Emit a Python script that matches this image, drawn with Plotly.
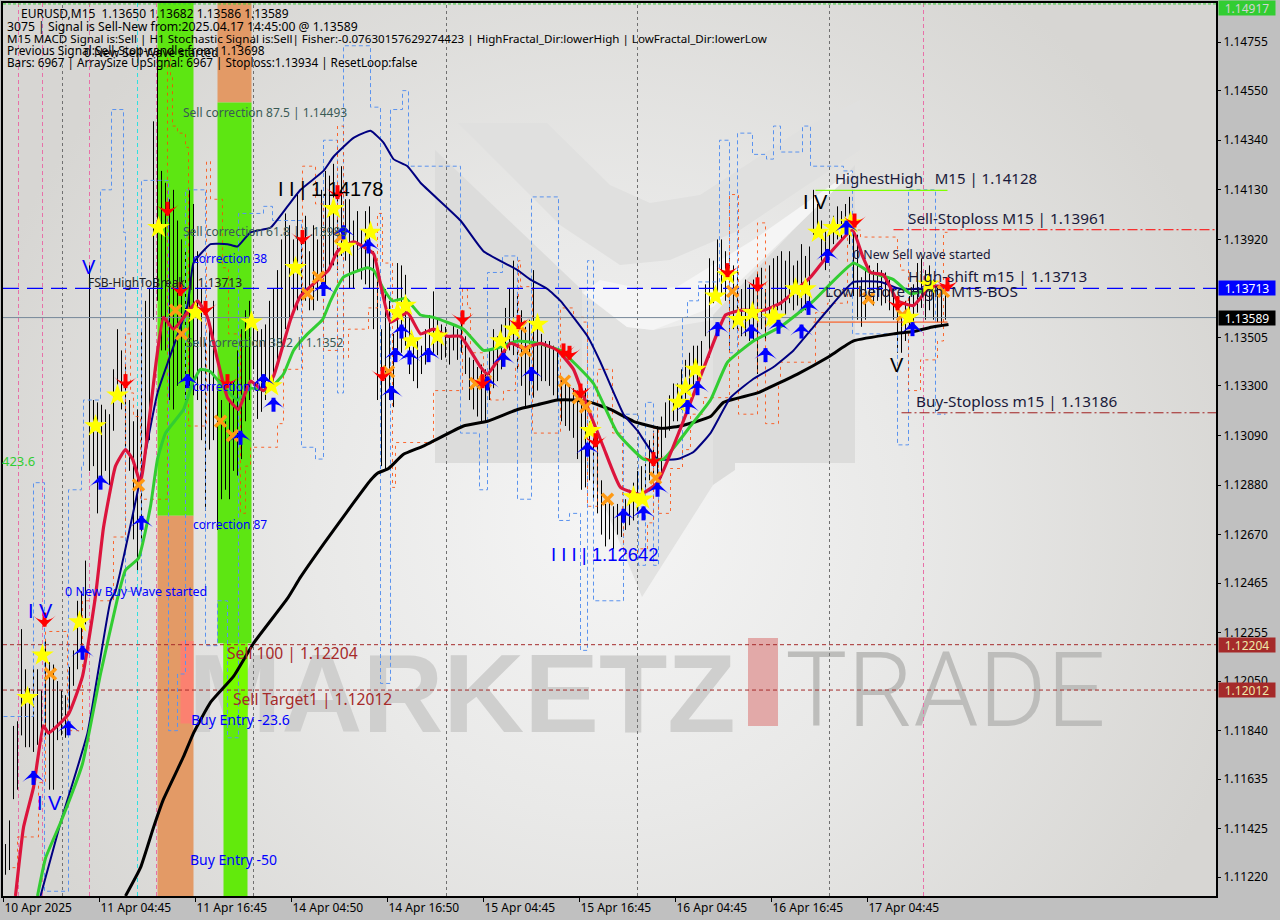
import base64
import plotly.graph_objects as go

# ---------- data ----------
tick_prices = [1.14755, 1.14550, 1.14340, 1.14130, 1.13920, 1.13505, 1.13300, 1.13090, 1.12880, 1.12670,
               1.12465, 1.12255, 1.12050, 1.11840, 1.11635, 1.11425, 1.11220]
time_labels = ["10 Apr 2025", "11 Apr 04:45", "11 Apr 16:45", "14 Apr 04:50", "14 Apr 16:50",
               "15 Apr 04:45", "15 Apr 16:45", "16 Apr 04:45", "16 Apr 16:45", "17 Apr 04:45"]

highs = [1.1136,1.1146,1.1186,1.1188,1.1227,1.1210,1.1202,1.1211,1.1210,1.1201,1.1222,1.1213,1.1212,1.1205,1.1201,1.1199,
1.1211,1.1218,1.1239,1.1243,1.1256,1.1381,1.1324,1.1323,1.1322,1.1320,1.1318,1.1337,1.1354,1.1345,1.1339,1.1324,
1.1315,1.1320,1.1354,1.1366,1.1371,1.1442,1.1472,1.1421,1.1416,1.1409,1.1413,1.1400,1.1392,1.1387,1.1413,1.1407,
1.1387,1.1371,1.1349,1.1358,1.1366,1.1328,1.1324,1.1315,1.1324,1.1332,1.1345,1.1354,1.1362,1.1366,1.1358,1.1354,
1.1354,1.1356,1.1366,1.1371,1.1379,1.1392,1.1403,1.1398,1.1392,1.1412,1.1396,1.1402,1.1387,1.1398,1.1392,1.1413,
1.1421,1.1419,1.1424,1.1409,1.1423,1.1409,1.1409,1.1400,1.1404,1.1396,1.1404,1.1406,1.1387,1.1381,1.1354,1.1371,
1.1366,1.1352,1.1382,1.1381,1.1377,1.1366,1.1351,1.1349,1.1347,1.1354,1.1360,1.1370,1.1358,1.1356,1.1355,1.1351,
1.1356,1.1354,1.1358,1.1351,1.1342,1.1341,1.1338,1.1339,1.1337,1.1345,1.1354,1.1351,1.1356,1.1363,1.1371,1.1383,
1.1368,1.1362,1.1355,1.1358,1.1379,1.1354,1.1352,1.1349,1.1349,1.1347,1.1346,1.1334,1.1332,1.1330,1.1329,1.1328,
1.1327,1.1329,1.1315,1.1311,1.1310,1.1290,1.1280,1.1282,1.1279,1.1280,1.1277,1.1282,1.1286,1.1289,1.1294,1.1296,
1.1297,1.1307,1.1311,1.1313,1.1317,1.1323,1.1326,1.1331,1.1331,1.1337,1.1341,1.1344,1.1347,1.1347,1.1349,1.1373,
1.1384,1.1383,1.1392,1.1392,1.1387,1.1386,1.1381,1.1379,1.1371,1.1375,1.1373,1.1375,1.1378,1.1380,1.1371,1.1381,
1.1384,1.1385,1.1387,1.1383,1.1387,1.1381,1.1383,1.1390,1.1385,1.1389,1.1413,1.1407,1.1400,1.1396,1.1398,1.1402,
1.1406,1.1404,1.1407,1.1410,1.1396,1.1394,1.1376,1.1379,1.1381,1.1379,1.1382,1.1379,1.1378,1.1375,1.1371,1.1368,
1.1361,1.1366,1.1368,1.1373,1.1382,1.1384,1.1379,1.1381,1.1375,1.1372,1.1373,1.1372]

lows = [1.1123,1.1125,1.1155,1.1159,1.1182,1.1177,1.1177,1.1175,1.1178,1.1184,1.1182,1.1159,1.1159,1.1180,1.1182,1.1181,
1.1193,1.1203,1.1210,1.1220,1.1229,1.1294,1.1296,1.1276,1.1290,1.1294,1.1288,1.1311,1.1329,1.1320,1.1303,1.1294,
1.1265,1.1252,1.1265,1.1301,1.1307,1.1358,1.1366,1.1345,1.1345,1.1324,1.1320,1.1330,1.1332,1.1324,1.1330,1.1326,
1.1324,1.1307,1.1277,1.1303,1.1307,1.1269,1.1282,1.1286,1.1282,1.1294,1.1292,1.1299,1.1315,1.1324,1.1337,1.1316,
1.1319,1.1324,1.1332,1.1330,1.1339,1.1347,1.1354,1.1358,1.1362,1.1362,1.1366,1.1366,1.1362,1.1362,1.1366,1.1373,
1.1371,1.1379,1.1381,1.1379,1.1385,1.1383,1.1371,1.1371,1.1379,1.1375,1.1373,1.1371,1.1354,1.1324,1.1296,1.1294,
1.1324,1.1321,1.1345,1.1344,1.1347,1.1335,1.1332,1.1329,1.1335,1.1339,1.1345,1.1344,1.1343,1.1341,1.1342,1.1339,
1.1345,1.1341,1.1344,1.1335,1.1324,1.1320,1.1317,1.1315,1.1315,1.1324,1.1329,1.1332,1.1337,1.1344,1.1345,1.1343,
1.1337,1.1330,1.1321,1.1326,1.1325,1.1328,1.1332,1.1332,1.1330,1.1326,1.1324,1.1315,1.1313,1.1311,1.1308,1.1299,
1.1286,1.1287,1.1290,1.1282,1.1276,1.1267,1.1262,1.1265,1.1261,1.1267,1.1266,1.1269,1.1271,1.1273,1.1277,1.1280,
1.1285,1.1290,1.1292,1.1290,1.1291,1.1308,1.1311,1.1315,1.1315,1.1320,1.1324,1.1327,1.1330,1.1330,1.1334,1.1351,
1.1342,1.1365,1.1366,1.1368,1.1366,1.1345,1.1354,1.1354,1.1351,1.1351,1.1349,1.1349,1.1335,1.1354,1.1349,1.1358,
1.1359,1.1362,1.1362,1.1360,1.1365,1.1362,1.1364,1.1361,1.1362,1.1362,1.1394,1.1394,1.1383,1.1379,1.1387,1.1390,
1.1392,1.1392,1.1393,1.1390,1.1368,1.1358,1.1355,1.1358,1.1366,1.1364,1.1366,1.1364,1.1365,1.1362,1.1358,1.1344,
1.1344,1.1349,1.1354,1.1356,1.1361,1.1363,1.1358,1.1362,1.1358,1.1357,1.1356,1.1358]

black_bar = [31,34.75,38,40.5,45.5,48,52.25,58,63,71.5,74.75,80.5,86.5,92.25,94,96.75,100.5,104.75,107.25,115.5,121.5,129,134,139,143,147.25,152.25,158,164.75,169.75,177.25,180.5,189,199,206.5,213,223,228,233,236.75]
black_val = [1.1114,1.1126,1.1143,1.1155,1.1173,1.1183,1.1196,1.1207,1.1221,1.1240,1.1249,1.1263,1.1277,1.1290,1.1293,1.1295,1.1301,1.1304,1.1306,1.1313,1.1315,1.1320,1.1322,1.1324,1.1324,1.1323,1.1320,1.1315,1.1312,1.1313,1.1317,1.1323,1.1327,1.1335,1.1342,1.1349,1.1352,1.1353,1.1355,1.1356]

navy_bar = [9.75,14.75,21.5,27.25,28.5,34.75,39,46.5,48,52.25,56.5,59,62.25,67.25,71.5,74.75,80.5,83,88,92.25,95.5,98,101.5,104.75,114.75,120.5,129,132.25,136.5,139.75,146.5,149.75,155.5,159,164,169,173,177.25,182.25,188,193,198,203,206.5,213,219.75,224.75,229.75,233.5]
navy_val = [1.1114,1.1145,1.1183,1.1239,1.1243,1.1291,1.1327,1.1364,1.1382,1.1390,1.1390,1.1389,1.1395,1.1397,1.1406,1.1413,1.1421,1.1427,1.1435,1.1438,1.1433,1.1426,1.1423,1.1416,1.1400,1.1387,1.1379,1.1375,1.1371,1.1366,1.1351,1.1340,1.1318,1.1311,1.1299,1.1299,1.1302,1.1310,1.1325,1.1333,1.1338,1.1345,1.1355,1.1362,1.1374,1.1374,1.1371,1.1371,1.1370]

green_bar = [9,11,14.75,20.25,24.75,29,31,34.25,37.25,39,41,45.5,47.75,49.75,52.25,54.75,59,62.25,66.5,70.5,73,76.5,80.25,82.25,85.5,91.5,93,95.5,97.75,101,104.75,108,115.5,120.5,124,129,134,139.75,143,148,154,160.5,165.5,172.25,177.25,181.5,188,194.75,203,213,217.25,223,227.25,232.25]
green_val = [1.1114,1.1130,1.1145,1.1170,1.1208,1.1240,1.1252,1.1257,1.1279,1.1299,1.1310,1.1320,1.1331,1.1337,1.1336,1.1331,1.1324,1.1329,1.1328,1.1335,1.1345,1.1352,1.1358,1.1366,1.1376,1.1380,1.1379,1.1371,1.1366,1.1367,1.1360,1.1359,1.1354,1.1345,1.1346,1.1349,1.1348,1.1345,1.1340,1.1331,1.1310,1.1299,1.1299,1.1313,1.1324,1.1340,1.1349,1.1355,1.1366,1.1382,1.1378,1.1375,1.1369,1.1371]

red_bar = [3.5,5.5,8,10.5,11.75,16.75,20.25,23.5,25.5,28.5,31,32.75,34.75,36.75,38.5,40.5,43,49,51.5,54,56.5,59.25,62.25,65.5,68,72.25,74.75,81.75,84,88,93,94.75,97.25,101.5,104.75,108,111.5,114.75,119.75,121.5,127.25,130.5,134.75,139,143,146.5,150.5,154.75,159.75,164,169.75,172.25,177.25,181,184.75,190.5,194.75,202.25,206.5,212.75,215.25,217.25,220.5,224,228,232.25,236.75]
red_val = [1.1114,1.1143,1.1160,1.1186,1.1183,1.1191,1.1207,1.1241,1.1270,1.1296,1.1303,1.1299,1.1289,1.1313,1.1338,1.1359,1.1354,1.1366,1.1359,1.1341,1.1325,1.1320,1.1332,1.1328,1.1334,1.1358,1.1368,1.1379,1.1387,1.1391,1.1386,1.1373,1.1357,1.1361,1.1352,1.1354,1.1351,1.1351,1.1338,1.1335,1.1348,1.1346,1.1348,1.1345,1.1337,1.1321,1.1304,1.1287,1.1284,1.1289,1.1312,1.1323,1.1345,1.1360,1.1362,1.1362,1.1365,1.1376,1.1385,1.1396,1.1385,1.1378,1.1377,1.1366,1.1364,1.1372,1.1372]

star_bar = [6.5,10.25,19.5,23.5,29,39.25,48.5,62.5,67.5,73.5,83,86,92.25,99,101,102.5,109,124.75,128,134,147.25,158,160.25,169.25,171,173.5,178.5,181.5,184.25,187.75,192.75,193.5,198.5,201,204.25,208,211,212.25,226.75,231.75]
star_val = [1.1198,1.1216,1.1230,1.1313,1.1326,1.1397,1.1361,1.1357,1.1330,1.1380,1.1405,1.1389,1.1395,1.1361,1.1364,1.1349,1.1351,1.1349,1.1354,1.1356,1.1311,1.1283,1.1282,1.1323,1.1329,1.1337,1.1368,1.1377,1.1358,1.1361,1.1359,1.1359,1.1371,1.1371,1.1395,1.1397,1.1397,1.1399,1.1359,1.1373]

up_bar = [8,16.75,20.25,24.75,35,46.5,59.75,65.5,68,80.5,85.5,91.75,97.5,98.5,100,102,106.75,121.5,125.5,132.5,146.5,155.5,160.5,164,171.5,174,179,187.5,191,194.25,200,201.75,206.5,211.25,227.75]
up_val = [1.1164,1.1185,1.1217,1.1289,1.1272,1.1332,1.1308,1.1332,1.1322,1.1371,1.1395,1.1389,1.1327,1.1343,1.1353,1.1342,1.1343,1.1331,1.1341,1.1335,1.1303,1.1275,1.1276,1.1286,1.1321,1.1329,1.1354,1.1353,1.1343,1.1355,1.1353,1.1363,1.1385,1.1397,1.1354]

down_bar = [10.75,31,41.5,44.75,51,56.5,75.25,84,95.25,115.25,120.25,129.25,140.5,142,144.75,148.5,163,181.5,189,213.25,224,236.5]
down_val = [1.1231,1.1332,1.1405,1.1371,1.1363,1.1332,1.1393,1.1412,1.1335,1.1359,1.1332,1.1357,1.1345,1.1344,1.1328,1.1307,1.1299,1.1379,1.1373,1.1400,1.1365,1.1373]

cross_bar = [12.25,34.25,43.5,45,54.75,57.75,76.5,79.25,84.75,96.75,118.5,121,129.75,131,140.75,144.25,146,151.5,163.5,182.75,216.75,225.25,235.5]
cross_val = [1.1208,1.1288,1.1362,1.1352,1.1315,1.1309,1.1369,1.1376,1.1393,1.1336,1.1331,1.1332,1.1355,1.1345,1.1332,1.1325,1.1321,1.1282,1.1291,1.1370,1.1367,1.1360,1.1370]

fractal_bar = [0.5,8,10.75,16.75,20,20.5,24.75,27.5,30.5,31,35,41.75,44,46,51,54,56.5,59.25,65.5,67.75,75,78.5,80.5,84,85.5,92.25,94.75,97.25,100.25,101.75,114.75,119.5,121.5,125.25,129,132.5,139.25,142,144.75,146.5,148,155.5,159.25,161,163,164.25,170.25,171.5,174.25,179.5,182,184,187.75,191.25,193,194.75,200.25,202.25,210.5,212.75,224,226.75,233.5,236]
fractal_val = [1.1190,1.1289,1.1116,1.1286,1.1296,1.1324,1.1413,1.1447,1.1395,1.1243,1.1417,1.1184,1.1208,1.1413,1.1220,1.1239,1.1181,1.1403,1.1406,1.1400,1.1304,1.1299,1.1434,1.1327,1.1474,1.1448,1.1204,1.1447,1.1455,1.1423,1.1310,1.1286,1.1378,1.1385,1.1282,1.1410,1.1273,1.1276,1.1218,1.1383,1.1239,1.1318,1.1254,1.1323,1.1254,1.1299,1.1359,1.1366,1.1374,1.1434,1.1344,1.1437,1.1428,1.1426,1.1440,1.1429,1.1440,1.1423,1.1421,1.1352,1.1305,1.1413,1.1318,1.1318]

stop_bar = [2.75,4,9.25,11,16.5,20.25,28,31,32.25,33,34.75,41.5,42.25,42.75,44,46,46.75,51.25,52.25,55.25,56.75,59.75,61,62.25,69,70.5,75.25,78.5,80.5,84,85.5,86.75,91.75,94,95.25,97.75,98.5,108,115.25,116.5,117.25,120.5,122.25,125.5,128.5,129.25,129.75,132.75,139.75,143,145.5,146.5,149,152.75,155.25,155.5,159,161.5,163,164.25,167.25,170.25,172.25,175.5,182,184.25,189,191,194.25,194.75,203.5,206.5,211.5,214.75,224,224.75,226.75,229.75,234,235.5,236.5]
stop_val = [1.1126,1.1139,1.1162,1.1226,1.1184,1.1239,1.1266,1.1352,1.1327,1.1317,1.1282,1.1472,1.1461,1.1440,1.1437,1.1431,1.1313,1.1425,1.1409,1.1380,1.1352,1.1276,1.1296,1.1304,1.1314,1.1337,1.1423,1.1407,1.1345,1.1440,1.1342,1.1354,1.1363,1.1403,1.1382,1.1287,1.1306,1.1328,1.1371,1.1363,1.1344,1.1334,1.1324,1.1328,1.1338,1.1383,1.1372,1.1310,1.1363,1.1359,1.1357,1.1279,1.1337,1.1310,1.1273,1.1259,1.1261,1.1272,1.1312,1.1276,1.1295,1.1303,1.1318,1.1325,1.1411,1.1318,1.1399,1.1314,1.1331,1.1340,1.1361,1.1365,1.1396,1.1393,1.1385,1.1379,1.1328,1.1341,1.1349,1.1395,1.1395]

pink_days = [4.25, 10.25, 22, 38.75, 230.5]
gray_days = [15.25, 63, 111.25, 159, 207]
cyan_days = [34]

bid = 1.13589
bos_level = 1.13713
sell100 = 1.12204
target1 = 1.12012
top_level = 1.14917
highest_high = 1.14128
sell_stop = 1.13961
buy_stop = 1.13186
low_before_high = 1.1357

# ---------- frame ----------
W, H = 1280, 920
L, R, T, B = 3, 1216, 3, 896
def PX(x): return (x - L) / (R - L)
def PY(y): return 1 - (y - T) / (B - T)
PRICE_MIN, PRICE_MAX = 1.11140, 1.14921
BAR_MIN, BAR_MAX = 0.375, 303.625

# background: soft radial light plus the pale logo
svg = f'''<svg xmlns="http://www.w3.org/2000/svg" viewBox="{L} {T} {R-L} {B-T}" preserveAspectRatio="none" width="{R-L}" height="{B-T}">
<defs><radialGradient id="g" gradientUnits="userSpaceOnUse" cx="610" cy="520" r="660">
<stop offset="0" stop-color="#f5f5f5"/><stop offset="0.45" stop-color="#e9e9e8"/><stop offset="1" stop-color="#d7d6d3"/></radialGradient></defs>
<rect x="0" y="0" width="1280" height="920" fill="url(#g)"/>
<polygon points="458,123 547,123 610,185 650,203 700,195 800,130 860,100 860,150 740,230 670,260 620,265 560,225" fill="#e0e0df"/>
<polygon points="435,150 582,290 582,463 435,463" fill="#dcdcdb"/>
<polygon points="713,315 855,165 855,463 735,463 735,470 713,485" fill="#dcdcdb"/>
<polygon points="587,463 642,597 713,485 713,320 653,330 627,327 582,293 582,463" fill="#e2e2e1"/>
<polygon points="583,293 600,280 647,290 677,287 753,240 853,170 853,172 713,307 653,330 627,327" fill="#f5f5f5"/>
</svg>'''
bg_src = "data:image/svg+xml;base64," + base64.b64encode(svg.encode()).decode()

fig = go.Figure()

# shapes drawn behind the marks
shapes = []
def band(x0, x1, y0, y1, color):
    shapes.append(dict(type="rect", xref="x", yref="y", x0=x0, x1=x1, y0=y0, y1=y1,
                       fillcolor=color, line_width=0, layer="below"))
GREEN, ORANGE = "#5de612", "#e39a66"
band(39, 48, 1.1275, PRICE_MAX, GREEN)
band(39, 48, PRICE_MIN, 1.1275, ORANGE)
band(54, 62.5, 1.1450, PRICE_MAX, ORANGE)
band(54, 62.5, 1.1221, 1.1450, GREEN)
band(55.5, 61.5, PRICE_MIN, 1.1221, "#62ea0c")
band(55.5, 61.5, 1.1187, 1.1221, "#77fb00")
band(44.75, 48, 1.1187, 1.1222, "#fb8170")

def wm(text, x0, x1, y0, y1, size, color, family, weight="normal"):
    shapes.append(dict(type="rect", xref="paper", yref="paper", x0=PX(x0), x1=PX(x1), y0=PY(y1), y1=PY(y0),
                       fillcolor="rgba(0,0,0,0)", line_width=0, layer="below",
                       label=dict(text=text, textposition="middle center",
                                  font=dict(size=size, color=color, family=family, weight=weight))))
wm("<b>MARKETZ</b>", 190, 734, 630, 735, 112, "#cfcfce", "Liberation Sans")
wm("TRADE", 785, 1106, 630, 735, 104, "#bdbdbb", "Roboto", 300)
shapes.append(dict(type="rect", xref="paper", yref="paper", x0=PX(748), x1=PX(778), y0=PY(726), y1=PY(638),
                   fillcolor="#e2a9a8", line_width=0, layer="below"))

for d in pink_days:
    shapes.append(dict(type="line", xref="x", yref="paper", x0=d, x1=d, y0=0, y1=1, layer="below",
                       line=dict(color="#e870a8", width=1, dash="4px 3px")))
for d in gray_days:
    shapes.append(dict(type="line", xref="x", yref="paper", x0=d, x1=d, y0=0, y1=1, layer="below",
                       line=dict(color="#707070", width=1, dash="3px 3px")))
for d in cyan_days:
    shapes.append(dict(type="line", xref="x", yref="paper", x0=d, x1=d, y0=0, y1=1, layer="below",
                       line=dict(color="#30e0e0", width=1, dash="4px 3px")))

# bars
bx, by = [], []
for i, (h, l) in enumerate(zip(highs, lows), start=1):
    bx += [i, i, None]
    by += [l, h, None]
fig.add_trace(go.Scatter(x=bx, y=by, mode="lines", line=dict(color="black", width=1), showlegend=False, hoverinfo="skip"))

# step lines
fig.add_trace(go.Scatter(x=fractal_bar, y=fractal_val, mode="lines",
                         line=dict(color="#5b93ee", width=1, dash="4px 3px", shape="hv"), showlegend=False))
fig.add_trace(go.Scatter(x=stop_bar, y=stop_val, mode="lines",
                         line=dict(color="#ff4500", width=0.8, dash="3px 4px", shape="hv"), showlegend=False))

# level lines
def level(y, color, width, dash, x0=BAR_MIN, x1=BAR_MAX):
    fig.add_trace(go.Scatter(x=[x0, x1], y=[y, y], mode="lines",
                             line=dict(color=color, width=width, dash=dash), showlegend=False))
level(top_level, "#32cd32", 1, "3px 2px")
level(bid, "#778899", 1, "solid")
level(bos_level, "#0000ff", 1.2, "16px 8px")
level(sell100, "#a52a2a", 1, "4px 3px")
level(target1, "#a52a2a", 1, "4px 3px")
level(highest_high, "#7fff00", 1.2, "solid", 203.5, 236.5)
level(sell_stop, "#ff0000", 1, "10px 3px 2px 3px", 223, BAR_MAX)
level(buy_stop, "#a02020", 1, "10px 3px 2px 3px", 225, BAR_MAX)
level(low_before_high, "#ff4500", 1, "solid", 203, 236.5)

# moving averages
def ma(x, y, color, width):
    fig.add_trace(go.Scatter(x=x, y=y, mode="lines",
                             line=dict(color=color, width=width, shape="spline", smoothing=0.4), showlegend=False))
ma(black_bar, black_val, "#000000", 3)
ma(navy_bar, navy_val, "#000080", 2)
ma(green_bar, green_val, "#32cd32", 3)
ma(red_bar, red_val, "#dc143c", 3.2)

# markers
def mk(x, y, symbol, size, color, lw=0, lc=None, angle=0):
    fig.add_trace(go.Scatter(x=x, y=y, mode="markers", showlegend=False,
                             marker=dict(symbol=symbol, size=size, color=color, angle=angle,
                                         line=dict(width=lw, color=lc or color))))
mk(cross_bar, cross_val, "x-thin", 11, "#ff9a14", 3.5, "#ff9a14")
mk(star_bar, star_val, "star", 17, "#ffff00")
HEAD = 0.00030
mk(up_bar, up_val, "line-ns", 10, "#0000ff", 4)
mk(up_bar, [v + HEAD for v in up_val], "arrow-wide", 16, "#0000ff")
mk(down_bar, down_val, "line-ns", 10, "#ff0000", 4)
mk(down_bar, [v - HEAD for v in down_val], "arrow-wide", 16, "#ff0000", angle=180)

# labels
labels = []
def txt(s, x, y, size=12, color="black", family="Noto Sans"):
    labels.append(dict(text=s, xref="paper", yref="paper", x=PX(x - 2), y=PY(y), xanchor="left", yanchor="middle",
                       showarrow=False, font=dict(size=size, color=color, family=family)))
txt("EURUSD,M15&nbsp;&nbsp;1.13650 1.13682 1.13586 1.13589", 21, 13, 12)
txt("3075 | Signal is Sell-New from:2025.04.17 14:45:00 @ 1.13589", 7, 26, 12.2)
txt("M15 MACD Signal is:Sell | H1 Stochastic Signal is:Sell| Fisher:-0.07630157629274423 | HighFractal_Dir:lowerHigh | LowFractal_Dir:lowerLow", 7, 38, 11.6)
txt("Previous Signal:Sell-Stop-candle from: 1.13698", 7, 50, 11.9)
txt("Bars: 6967 | ArraySize UpSignal: 6967 | Stoploss:1.13934 | ResetLoop:false", 7, 62, 11.7)
txt("0 New Sell Wave started", 84, 53, 12)
SL = "#3a5a55"
txt("Sell correction 87.5 | 1.14493", 183, 112, 12, SL)
txt("Sell correction 61.8 | 1.13983", 183, 232, 12, SL)
txt("correction 38", 193, 259, 12, "#0000ff")
txt("FSB-HighToBreak | 1.13713", 88, 282, 12, "#222222")
txt("Sell correction 38.2 | 1.1352", 186, 342, 12, SL)
txt("correction 0", 193, 386, 12, "#0000ff")
txt("423.6", 2, 461, 13, "#32cd32")
txt("correction 87", 193, 524, 12, "#0000ff")
txt("0 New Buy Wave started", 65, 591, 12.5, "#0000ff")
txt("Sell 100 | 1.12204", 227, 653, 15.6, "#a52a2a")
txt("Sell Target1 | 1.12012", 233, 699, 15.6, "#a52a2a")
txt("Buy Entry -23.6", 191, 719, 14, "#0000ff")
txt("Buy Entry -50", 190, 859, 14, "#0000ff")
BIG = "Liberation Sans"
txt("I I | 1.14178", 278, 189, 20, "black", BIG)
txt("I I I | 1.12642", 551, 554, 18.5, "#0000ff", BIG)
txt("I V", 803, 202, 20, "black", BIG)
txt("V", 890, 365, 20, "black", BIG)
txt("V", 82, 267, 20, "#0000ff", BIG)
txt("I V", 28, 611, 20, "#0000ff", BIG)
txt("I V", 37, 803, 20, "#0000ff", BIG)
D = "#1a1a3a"
txt("HighestHigh&nbsp;&nbsp;&nbsp;M15 | 1.14128", 835, 178, 15, D)
txt("Sell-Stoploss M15 | 1.13961", 908, 218, 15.3, D)
txt("0 New Sell wave started", 853, 254, 12.4, D)
txt("High-shift m15 | 1.13713", 908, 276, 15.3, D)
txt("Low before High&nbsp;&nbsp;M15-BOS", 825, 291, 15.3, D)
txt("Buy-Stoploss m15 | 1.13186", 916, 401, 15.3, D)

def tag(s, price, bg, fg, yshift=0):
    labels.append(dict(text=s, xref="paper", yref="y", x=PX(1218), y=price, xanchor="left", yanchor="middle",
                       showarrow=False, bgcolor=bg, width=56, height=14, borderpad=0, align="center", yshift=yshift,
                       font=dict(size=12, color=fg, family="Noto Sans")))
tag("1.14917", top_level, "#32cd32", "#d3d3d3", yshift=-4)
tag("1.13713", bos_level, "#0000ff", "#ffffff")
tag("1.13589", bid, "#000000", "#ffffff")
tag("1.12204", sell100, "#a52a2a", "#eee8aa")
tag("1.12012", target1, "#a52a2a", "#eee8aa")

fig.update_layout(
    width=W, height=H, autosize=False,
    margin=dict(l=L, r=W - R, t=T, b=H - B, pad=0, autoexpand=False),
    paper_bgcolor="#c0c0c0", plot_bgcolor="rgba(0,0,0,0)",
    showlegend=False, shapes=shapes, annotations=labels, hovermode=False,
    images=[dict(source=bg_src, xref="paper", yref="paper", x=0, y=1, sizex=1, sizey=1,
                 sizing="stretch", layer="below", xanchor="left", yanchor="top")],
    xaxis=dict(range=[BAR_MIN, BAR_MAX], showgrid=False, zeroline=False, showline=True, linecolor="black", linewidth=2,
               mirror=True, ticks="outside", ticklen=4, tickcolor="black", tickwidth=1,
               tickmode="array", tickvals=[BAR_MIN + 24 * k for k in range(len(time_labels))], ticktext=time_labels,
               ticklabelposition="outside right", tickfont=dict(size=12, color="black", family="Noto Sans")),
    yaxis=dict(range=[PRICE_MIN, PRICE_MAX], side="right", showgrid=False, zeroline=False, showline=True,
               linecolor="black", linewidth=2, mirror=True, ticks="outside", ticklen=3, tickcolor="black", tickwidth=1,
               tickmode="array", tickvals=tick_prices, ticktext=[f"{p:.5f}" for p in tick_prices],
               tickfont=dict(size=12, color="black", family="Noto Sans")),
)

fig.write_html("out.html", config=dict(displayModeBar=False, responsive=False),
               post_script="document.body.style.margin='0';document.body.style.overflow='hidden';")
